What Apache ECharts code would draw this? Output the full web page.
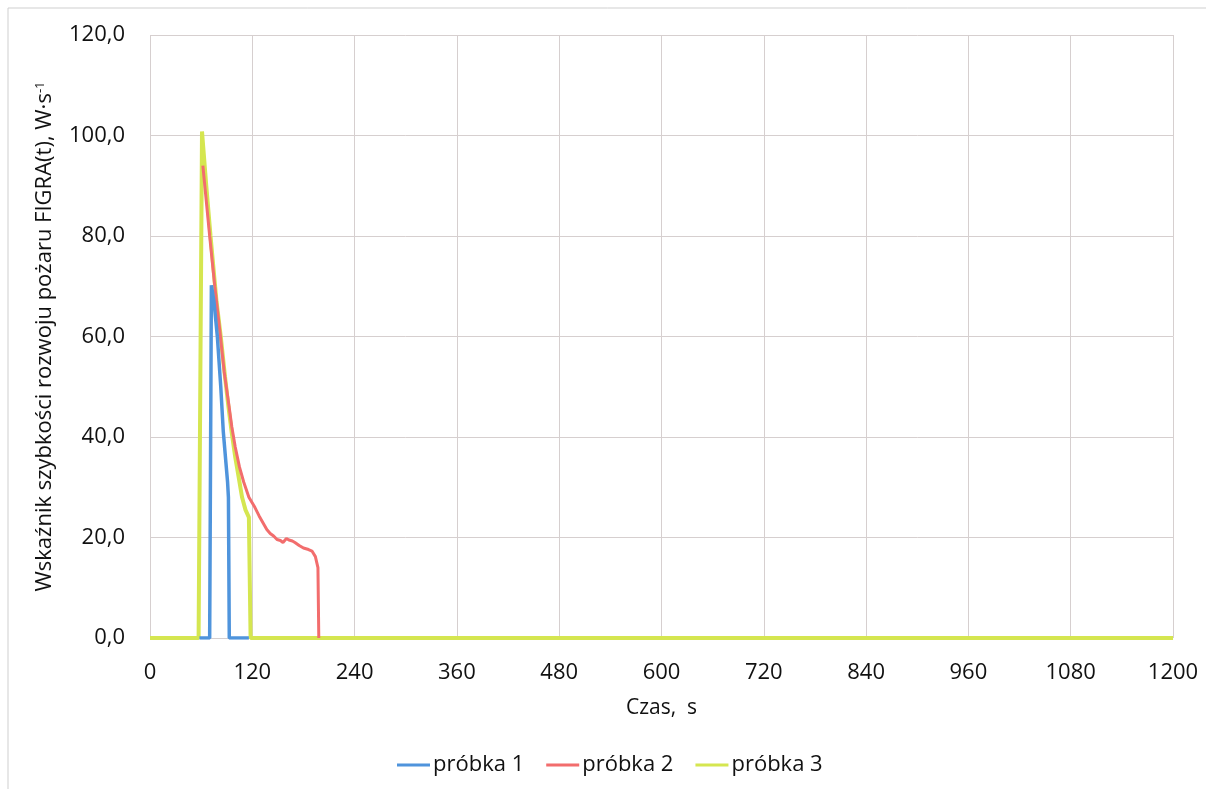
<!DOCTYPE html>
<html>
<head>
<meta charset="utf-8">
<script src="https://cdn.jsdelivr.net/npm/echarts@6/dist/echarts.min.js"></script>
<style>
  html, body { margin: 0; padding: 0; background: #fff; }
  #chart { width: 1206px; height: 789px; }
</style>
</head>
<body>
<div id="chart"></div>
<script>
// time (s) and FIGRA values
const xTicks = [0, 120, 240, 360, 480, 600, 720, 840, 960, 1080, 1200];

const t1 = [58, 70, 72, 75, 79, 83, 86, 89, 91, 92, 93, 116];
const v1 = [0, 0, 70.2, 67, 60, 50, 41, 35, 31, 28, 0, 0];

const t2 = [62, 66, 70, 76, 82, 87, 92, 96, 100, 105, 110, 116, 123, 128, 133, 137, 141, 145, 149, 153, 156, 160, 163, 167, 170, 175, 180, 186, 190, 194, 197, 198];
const v2 = [94, 87, 80, 70, 61, 53, 47, 42, 38, 34, 31, 28, 26, 24.3, 22.8, 21.6, 20.8, 20.3, 19.6, 19.4, 19.0, 19.8, 19.5, 19.3, 19.0, 18.4, 17.9, 17.6, 17.3, 16.2, 14, 0];

const t3 = [0, 57, 61, 66, 71, 78, 83, 88, 92, 96, 100, 104, 108, 112, 116, 118, 1200];
const v3 = [0, 0, 100.8, 90, 80, 67, 60, 52, 46, 40.7, 36, 32, 28, 25.5, 24, 0, 0];

const names = ['próbka 1', 'próbka 2', 'próbka 3'];
const colors = ['#4f94dc', '#f26d6d', '#d5e650'];

const zip = (t, v) => t.map((x, i) => [x, v[i]]);

const chart = echarts.init(document.getElementById('chart'));
const font = '"Open Sans", "DejaVu Sans", sans-serif';

chart.setOption({
  animation: false,
  textStyle: { fontFamily: font },
  graphic: [{
    type: 'rect',
    shape: { x: 8, y: 8, width: 1260, height: 840 },
    style: { fill: 'none', stroke: '#cfcfcf', lineWidth: 1 },
    silent: true
  }],
  grid: { left: 150, right: 33, top: 35, bottom: 151 },
  legend: {
    data: names,
    bottom: 8,
    left: 392,
    icon: 'rect',
    itemWidth: 33,
    itemHeight: 3,
    itemGap: 22,
    textStyle: { fontSize: 22, color: '#111', fontFamily: font, padding: [0, 0, 0, -2] }
  },
  xAxis: {
    type: 'value',
    min: 0,
    max: 1200,
    interval: 120,
    name: 'Czas,  s',
    nameLocation: 'middle',
    nameGap: 70,
    nameTextStyle: { fontSize: 21, color: '#111', verticalAlign: 'middle' },
    axisLine: { show: false },
    axisTick: { show: false },
    axisLabel: { fontSize: 22, color: '#111', margin: 24, formatter: v => String(v) },
    splitLine: { show: true, lineStyle: { color: '#d6cfcf', width: 1 } }
  },
  yAxis: {
    type: 'value',
    min: 0,
    max: 120,
    interval: 20,
    name: 'Wskaźnik szybkości rozwoju pożaru FIGRA(t), W·s{sup|-1}',
    nameLocation: 'middle',
    nameGap: 105,
    nameTextStyle: {
      fontSize: 22,
      color: '#111',
      verticalAlign: 'middle',
      rich: { sup: { fontSize: 13, verticalAlign: 'top', padding: [0, 0, 10, 0], color: '#111' } }
    },
    axisLine: { show: false },
    axisTick: { show: false },
    axisLabel: {
      fontSize: 22,
      color: '#111',
      margin: 25,
      formatter: v => v.toFixed(1).replace('.', ',')
    },
    splitLine: { show: true, lineStyle: { color: '#d6cfcf', width: 1 } }
  },
  series: [
    { name: names[0], type: 'line', data: zip(t1, v1), z: 4, showSymbol: false, color: colors[0], lineStyle: { width: 3.5 } },
    { name: names[1], type: 'line', data: zip(t2, v2), z: 3, showSymbol: false, color: colors[1], lineStyle: { width: 3 } },
    { name: names[2], type: 'line', data: zip(t3, v3), z: 2, showSymbol: false, color: colors[2], lineStyle: { width: 4 } }
  ]
});
</script>
</body>
</html>
